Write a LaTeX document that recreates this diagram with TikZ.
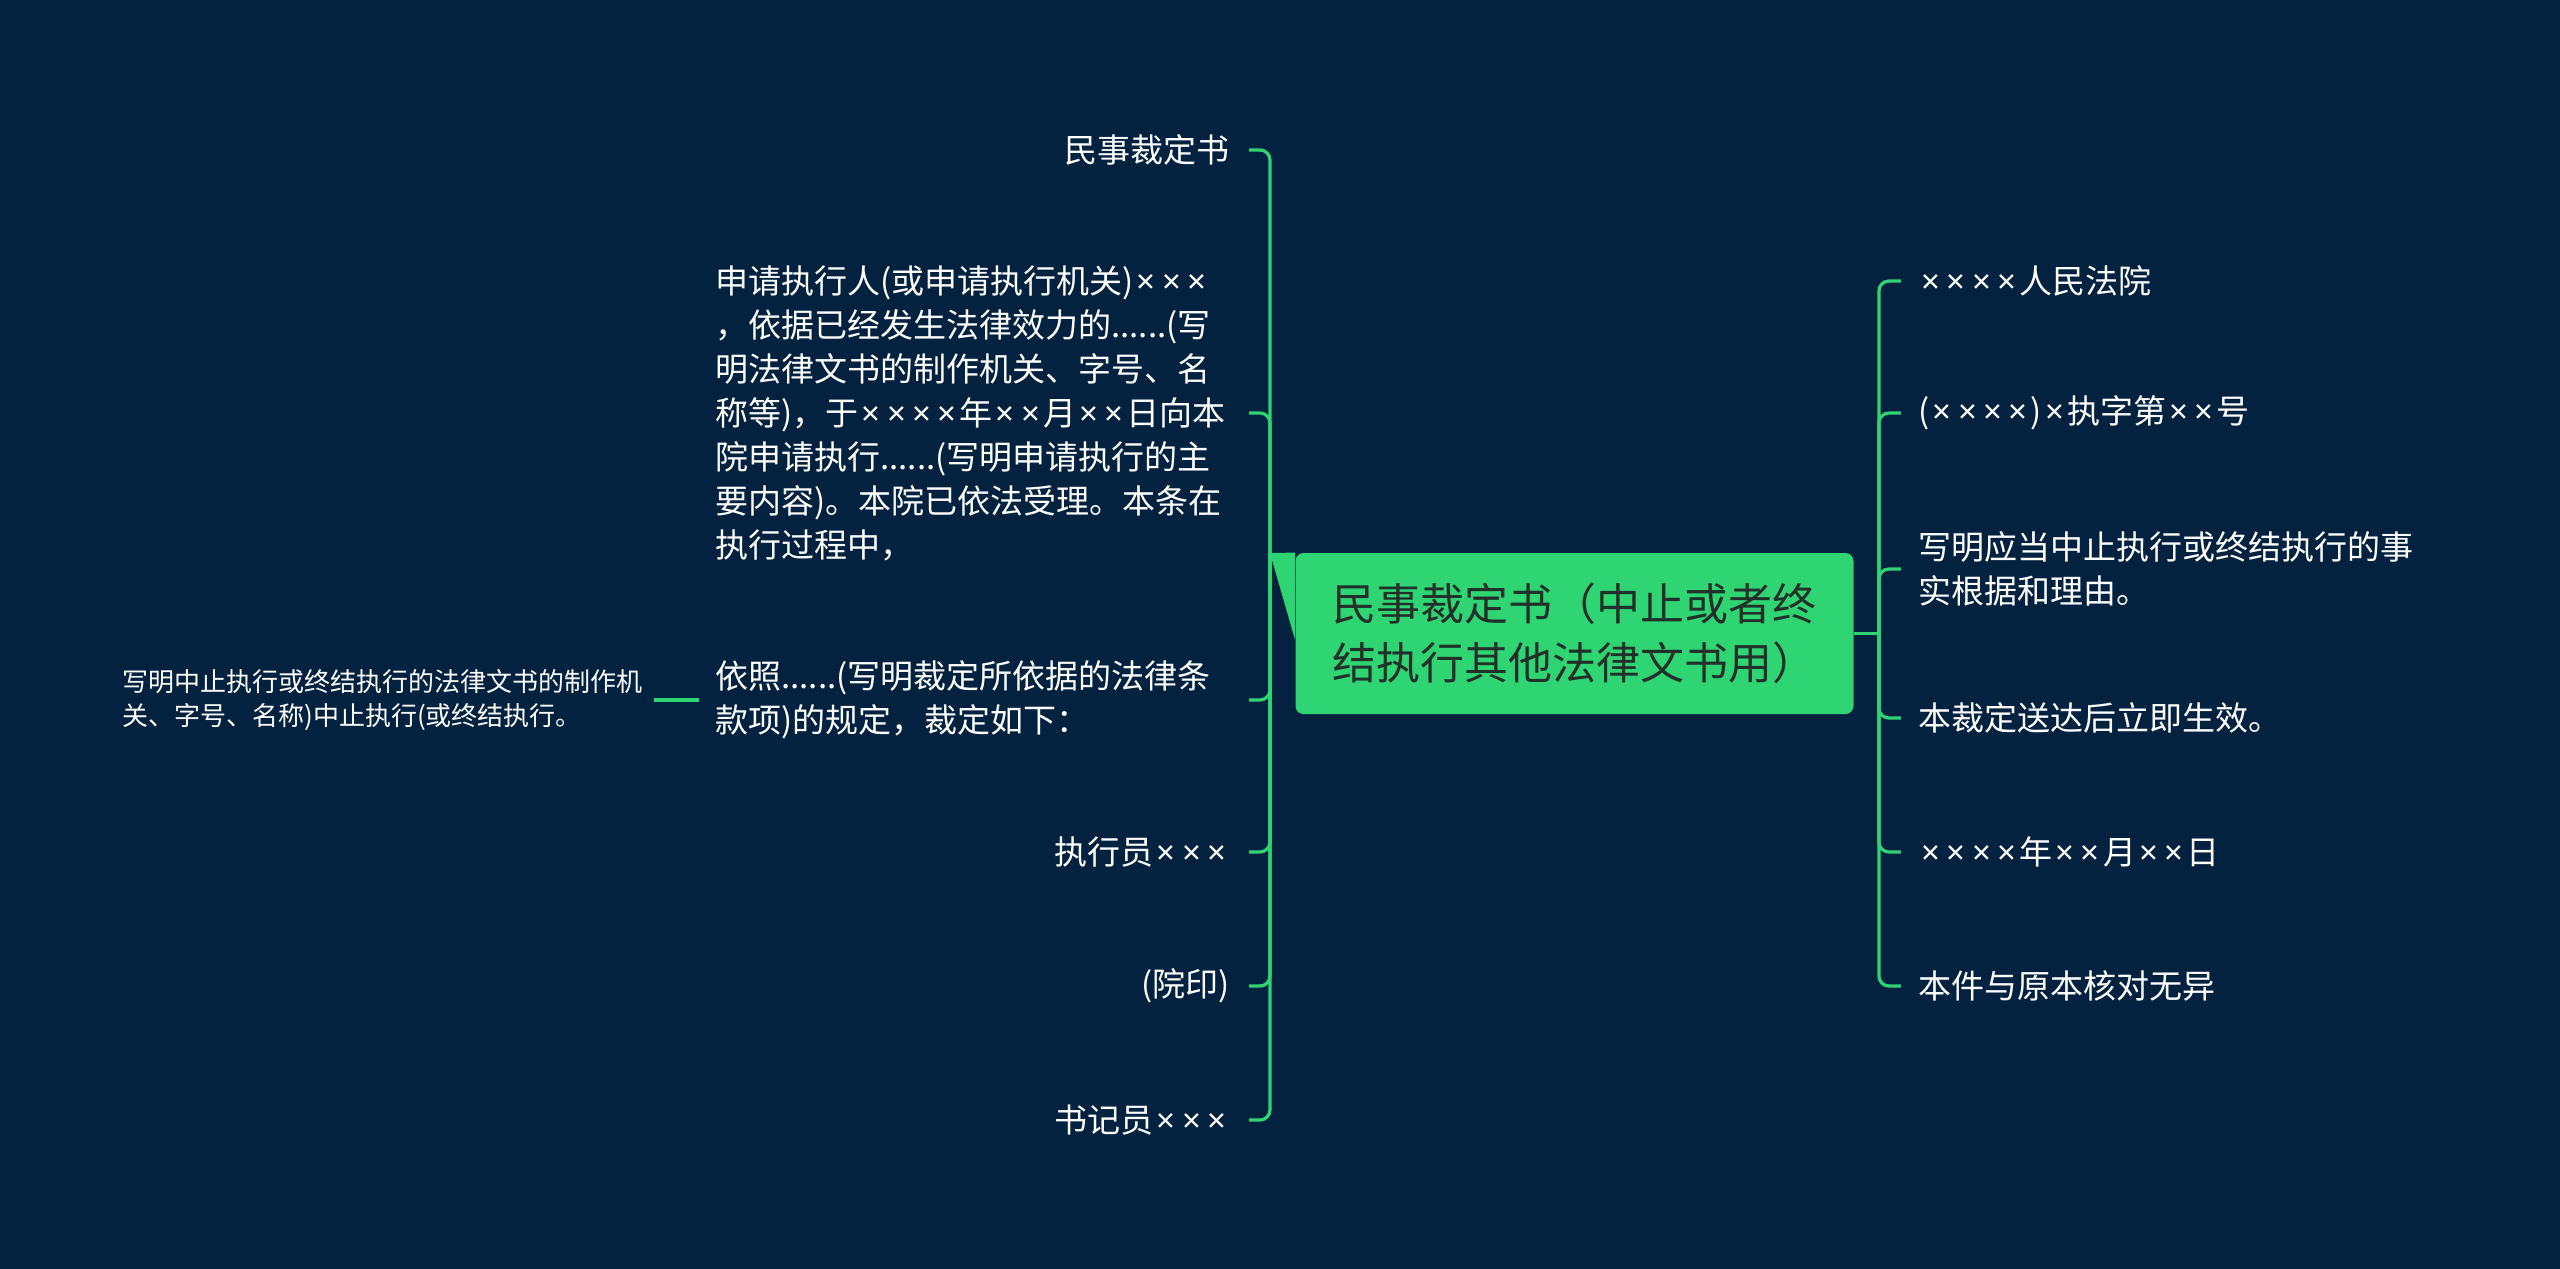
\documentclass[tikz,border=0pt]{standalone}
\usepackage{fontspec}
\setmainfont{Noto Sans CJK SC}
\newfontfamily\latinfont{Noto Sans}
\newcommand{\tms}{{\kern1.6pt\latinfont ×\kern1.6pt}}
\usetikzlibrary{positioning,calc}

\definecolor{bgnavy}{HTML}{022240}
\definecolor{mapgreen}{HTML}{2FD572}
\definecolor{roottext}{HTML}{22302A}

\tikzset{
  branch/.style={draw=mapgreen, line width=1.6pt, rounded corners=5pt},
  leaf/.style={text=white, inner sep=0pt, align=left, font=\fontsize{16.5}{22}\selectfont},
  smallleaf/.style={leaf, font=\fontsize{13}{17}\selectfont},
  rootbox/.style={fill=mapgreen, text=roottext, rounded corners=4pt, inner sep=0pt,
    minimum width=279pt, minimum height=80.5pt, align=left, font=\fontsize{22}{29.5}\selectfont}
}

\begin{document}
\begin{tikzpicture}[x=0.5pt, y=-0.5pt]
    % Background
    \fill[bgnavy] (0,0) rectangle (2560,1269);
    \useasboundingbox (0,0) rectangle (2560,1269);

    % Central topic and its two junctions
    \node[rootbox] (root) at (1574.5,633.5) {民事裁定书（中止或者终\\结执行其他法律文书用）};
    \coordinate (lj) at (1270,553);
    \coordinate (rj) at ([xshift=12.5pt]root.east);
    \fill[mapgreen] (lj) -- (root.north west) -- ($(root.north west)!0.54!(root.south west)$) -- cycle;

    % Left side
    \node[leaf, anchor=east] (l1) at (1230,150) {民事裁定书};
    \node[leaf, anchor=west] (l2) at (715,413) {申请执行人(或申请执行机关)\tms\tms\tms\\，依据已经发生法律效力的......(写\\明法律文书的制作机关、字号、名\\称等)，于\tms\tms\tms\tms 年\tms\tms 月\tms\tms 日向本\\院申请执行......(写明申请执行的主\\要内容)。本院已依法受理。本条在\\执行过程中，};
    \node[leaf, anchor=west] (l3) at (715,700) {依照......(写明裁定所依据的法律条\\款项)的规定，裁定如下：};
    \node[leaf, anchor=east] (l4) at (1230,852) {执行员\tms\tms\tms};
    \node[leaf, anchor=east] (l5) at (1230,986) {(院印)};
    \node[leaf, anchor=east] (l6) at (1230,1120) {书记员\tms\tms\tms};
    \node[smallleaf, anchor=west] (l3a) at (122,700) {写明中止执行或终结执行的法律文书的制作机\\关、字号、名称)中止执行(或终结执行。};

    % Right side
    \node[leaf, anchor=west] (r1) at (1918,281) {\tms\tms\tms\tms 人民法院};
    \node[leaf, anchor=west] (r2) at (1918,413) {(\tms\tms\tms\tms)\tms 执字第\tms\tms 号};
    \node[leaf, anchor=west] (r3) at (1918,569) {写明应当中止执行或终结执行的事\\实根据和理由。};
    \node[leaf, anchor=west] (r4) at (1918,718) {本裁定送达后立即生效。};
    \node[leaf, anchor=west] (r5) at (1918,852) {\tms\tms\tms\tms 年\tms\tms 月\tms\tms 日};
    \node[leaf, anchor=west] (r6) at (1918,986) {本件与原本核对无异};

    % Connectors
    \foreach \n in {l1,l2,l3,l4,l5,l6}
        \draw[branch] (lj) |- ([xshift=-10.5pt]lj |- \n.east);
    \draw[branch] (root.east) -- (rj);
    \foreach \n in {r1,r2,r3,r4,r5,r6}
        \draw[branch] (rj) |- ([xshift=11pt]rj |- \n.west);
    \draw[branch] ([xshift=5.5pt]l3a.east) -- ([xshift=-8pt]l3.west);

\end{tikzpicture}
\end{document}
